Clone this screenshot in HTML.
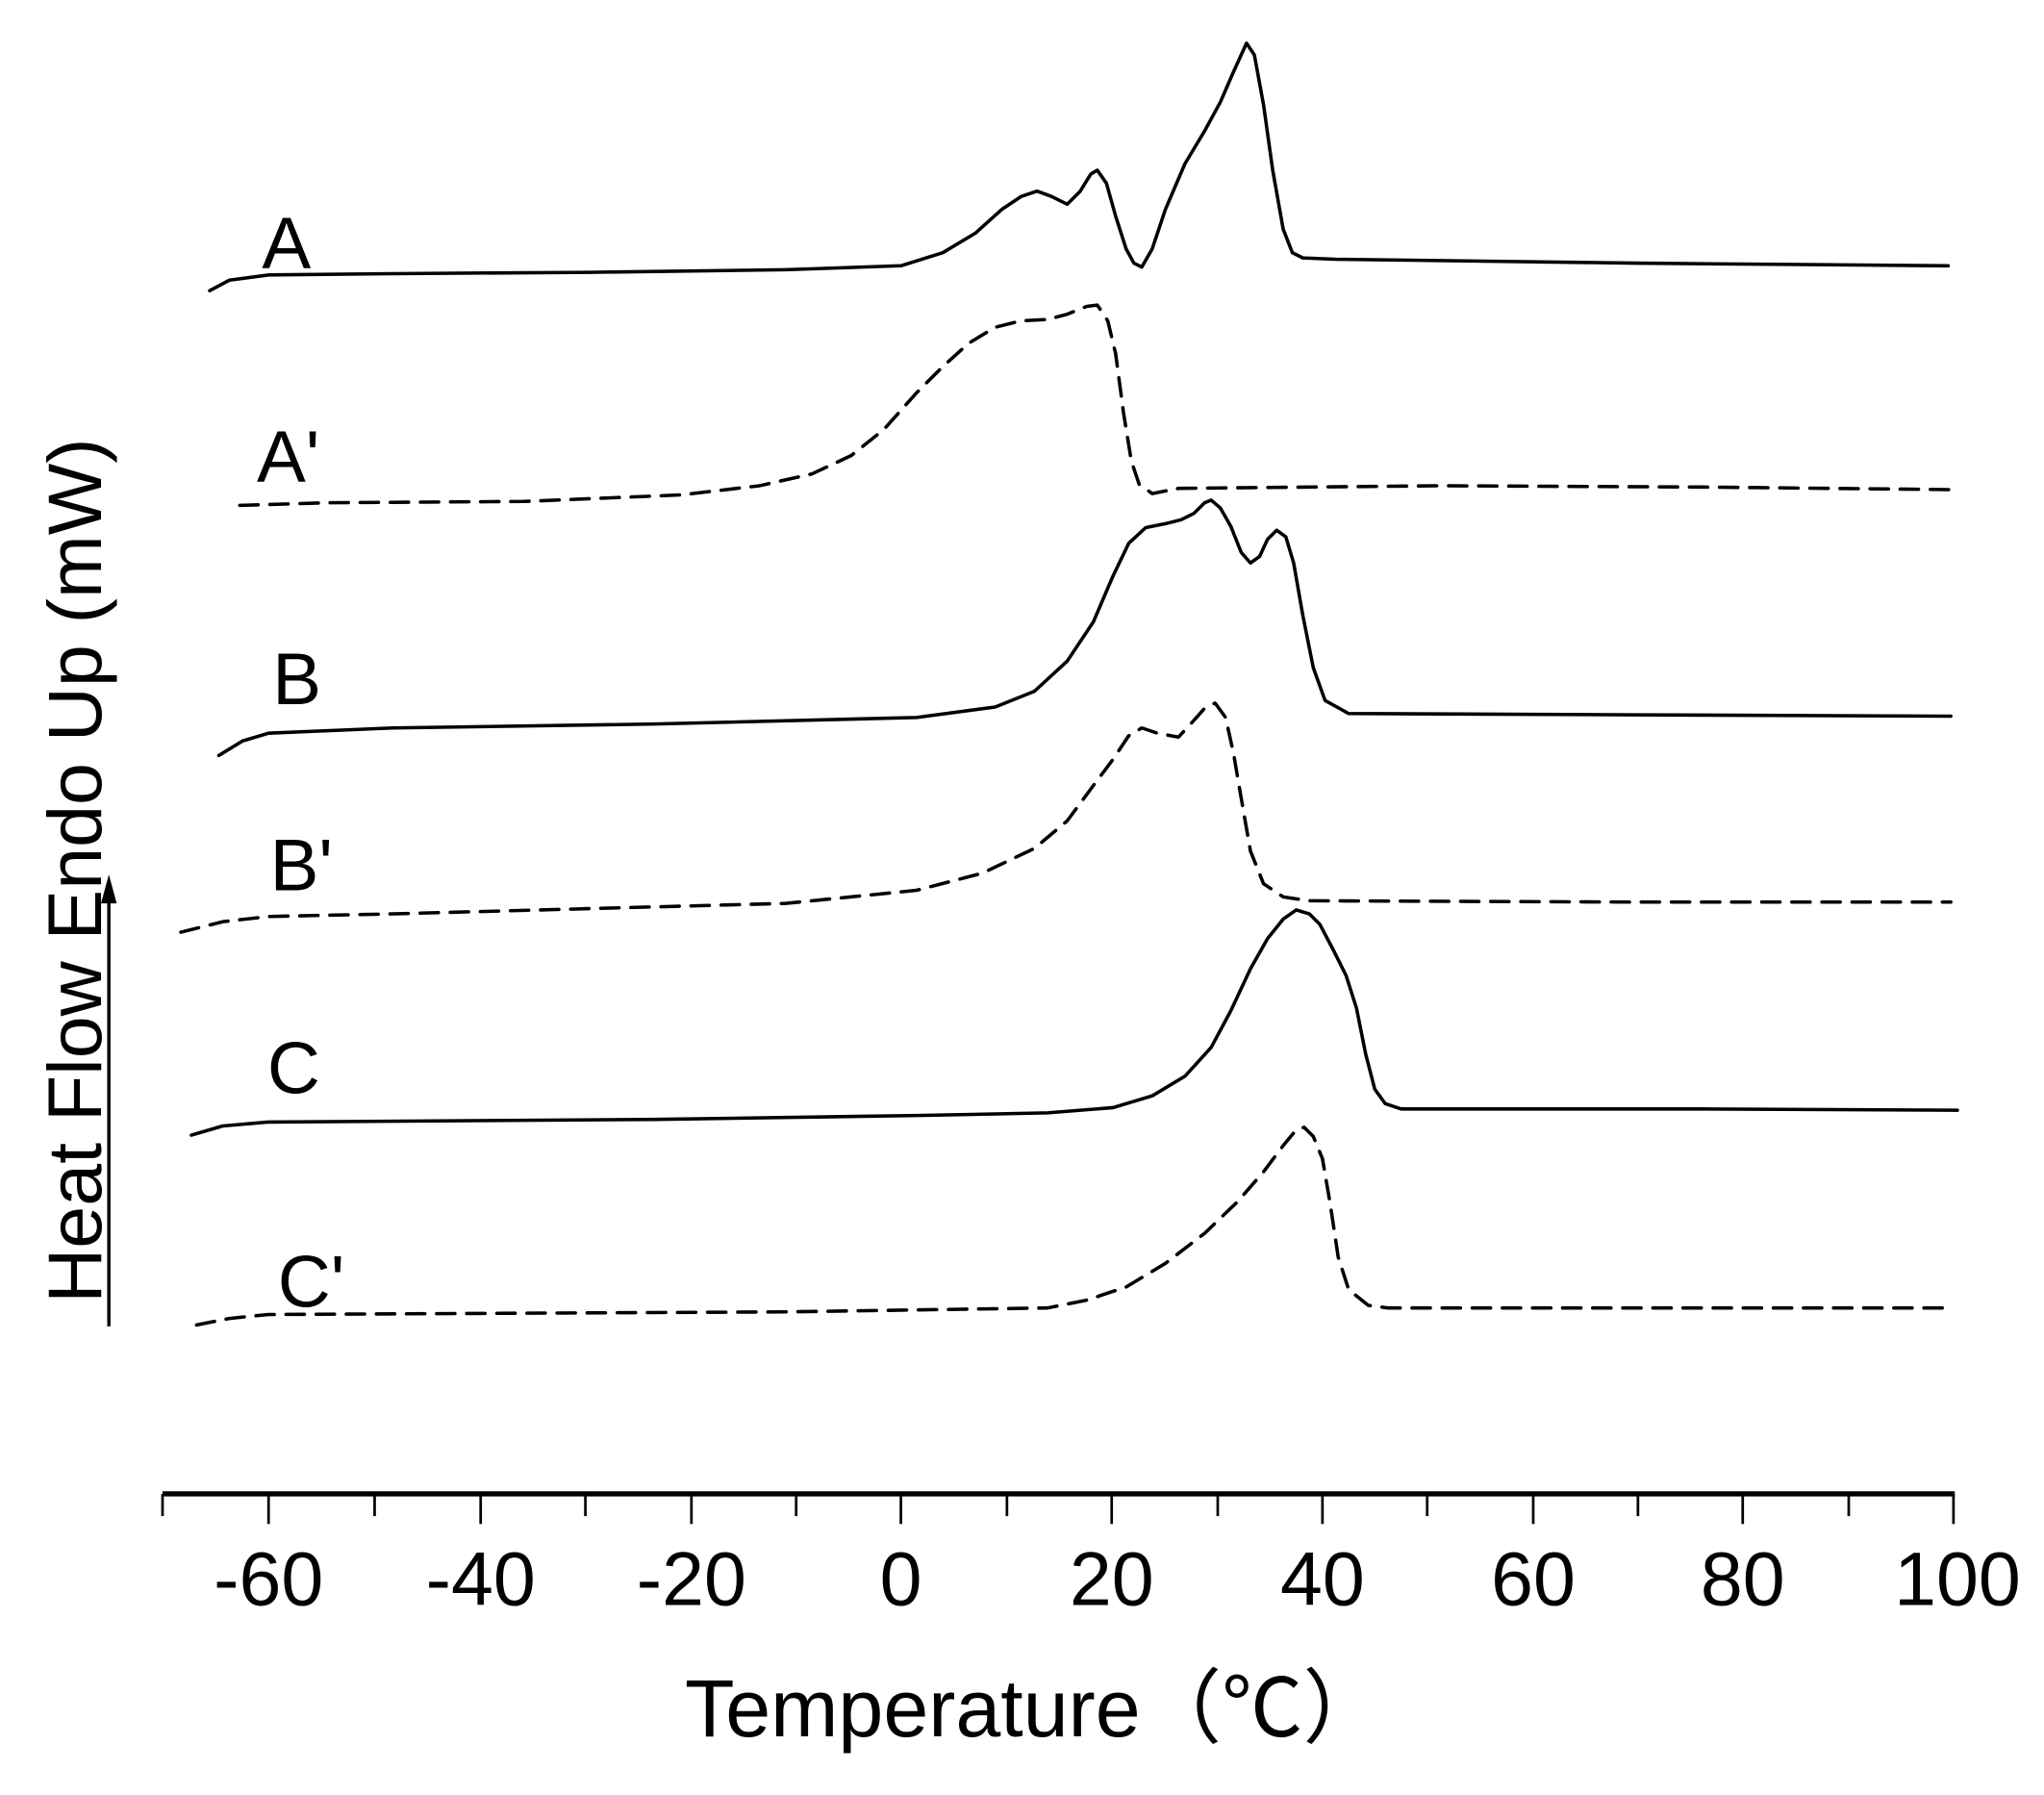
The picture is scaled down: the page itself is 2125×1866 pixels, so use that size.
<!DOCTYPE html>
<html><head><meta charset="utf-8"><style>html,body{margin:0;padding:0;background:#fff}svg{display:block}</style></head>
<body>
<svg width="2125" height="1866" viewBox="0 0 1561 1371" xmlns="http://www.w3.org/2000/svg" font-family="Liberation Sans, sans-serif">
<rect width="1561" height="1371" fill="#fff"/>
<g fill="none" stroke="#000" stroke-width="2.6" stroke-linejoin="round" stroke-linecap="round">
<polyline points="160,222 175,214 205,210 300,209 450,208 600,206 688,203 720,193 745,178 765,160 780,150 792,146 803,150 815,156 825,146 833,133 838,130 845,140 852,165 860,190 866,201 872,204 880,190 890,160 905,125 920,100 932,78 942,55 952,33 958,42 965,80 972,130 980,175 987,193 995,197 1020,198 1250,201 1488,203"/>
<polyline points="167,577 185,566 205,560 300,556 500,553 700,548 760,540 790,528 815,505 835,475 850,440 862,415 875,403 890,400 902,397 912,392 920,384 925,382 932,388 940,402 948,422 955,430 962,425 968,412 975,405 982,410 988,430 995,470 1003,510 1012,535 1030,545 1250,546 1490,547"/>
<polyline points="146,867 170,860 205,857 500,855 700,852 800,850 850,846 880,837 905,822 925,800 940,772 955,740 968,717 980,702 990,695 1000,698 1008,706 1018,725 1028,745 1036,770 1043,805 1050,832 1058,843 1070,847 1300,847 1495,848"/>
<g stroke-dasharray="14,9">
<polyline points="183,386 250,384 400,383 520,378 580,371 620,362 650,348 675,328 700,300 720,280 740,262 760,250 780,245 800,244 815,240 830,234 838,233 846,245 852,270 858,315 864,352 870,370 880,377 900,373 1100,371 1300,372 1492,374"/>
<polyline points="138,712 170,704 205,700 300,698 450,694 600,690 700,680 750,667 790,648 815,627 835,600 850,580 862,562 872,556 884,560 900,563 912,550 920,541 928,537 936,548 942,575 948,610 955,650 965,675 980,685 1000,688 1250,689 1490,689"/>
<polyline points="150,1012 175,1007 205,1004 400,1003 600,1002 800,999 830,993 860,983 890,965 920,942 945,918 965,895 980,875 990,863 996,861 1003,868 1010,885 1016,920 1022,960 1030,985 1045,997 1060,999 1300,999 1490,999"/>
</g>
</g>
<g font-size="56" fill="#000">
<text x="200" y="205">A</text>
<text x="196" y="368">A'</text>
<text x="208" y="538">B</text>
<text x="206" y="680">B'</text>
<text x="204" y="835">C</text>
<text x="212" y="998">C'</text>
</g>
<line x1="124" y1="1141" x2="1493" y2="1141" stroke="#000" stroke-width="4"/>
<g stroke="#000" stroke-width="2">
<line x1="124" y1="1141" x2="124" y2="1158"/>
<line x1="205" y1="1141" x2="205" y2="1164"/>
<line x1="286" y1="1141" x2="286" y2="1158"/>
<line x1="367" y1="1141" x2="367" y2="1164"/>
<line x1="447" y1="1141" x2="447" y2="1158"/>
<line x1="528" y1="1141" x2="528" y2="1164"/>
<line x1="608" y1="1141" x2="608" y2="1158"/>
<line x1="688" y1="1141" x2="688" y2="1164"/>
<line x1="769" y1="1141" x2="769" y2="1158"/>
<line x1="849" y1="1141" x2="849" y2="1164"/>
<line x1="930" y1="1141" x2="930" y2="1158"/>
<line x1="1010" y1="1141" x2="1010" y2="1164"/>
<line x1="1090" y1="1141" x2="1090" y2="1158"/>
<line x1="1171" y1="1141" x2="1171" y2="1164"/>
<line x1="1251" y1="1141" x2="1251" y2="1158"/>
<line x1="1331" y1="1141" x2="1331" y2="1164"/>
<line x1="1412" y1="1141" x2="1412" y2="1158"/>
<line x1="1492" y1="1141" x2="1492" y2="1164"/>
</g>
<g font-size="58" text-anchor="middle" fill="#000">
<text x="205" y="1226">-60</text>
<text x="367" y="1226">-40</text>
<text x="528" y="1226">-20</text>
<text x="688" y="1226">0</text>
<text x="849" y="1226">20</text>
<text x="1010" y="1226">40</text>
<text x="1171" y="1226">60</text>
<text x="1331" y="1226">80</text>
<text x="1495" y="1226">100</text>
</g>
<text x="790" y="1326" font-size="62" text-anchor="middle" font-family="Liberation Sans, Noto Sans CJK SC, sans-serif">Temperature（℃）</text>
<text transform="translate(77,665) rotate(-90)" font-size="58" text-anchor="middle">Heat Flow Endo Up (mW)</text>
<line x1="83" y1="1013" x2="83" y2="680" stroke="#000" stroke-width="2.5"/>
<polygon points="83,668 77,690 89,690" fill="#000"/>
</svg>
</body></html>
